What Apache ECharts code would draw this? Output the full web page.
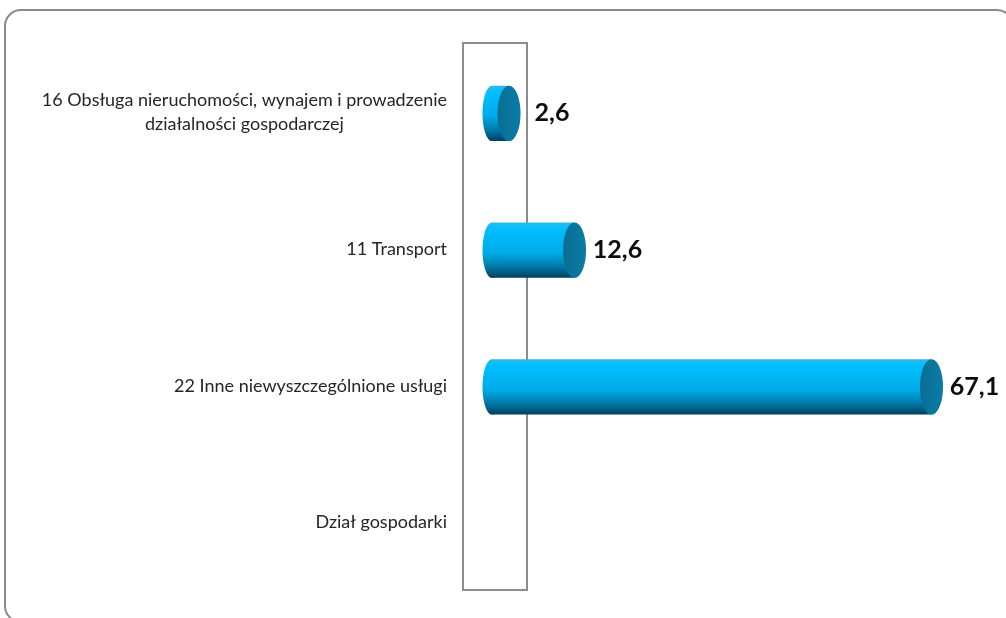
<!DOCTYPE html>
<html>
<head>
<meta charset="utf-8">
<script src="https://cdn.jsdelivr.net/npm/echarts@6/dist/echarts.min.js"></script>
<style>html,body{margin:0;padding:0;background:#fff}#c{width:1006px;height:618px}</style>
</head>
<body>
<div id="c"></div>
<script>
const categories = [
  '16 Obsługa nieruchomości, wynajem i prowadzenie\ndziałalności gospodarczej',
  '11 Transport',
  '22 Inne niewyszczególnione usługi',
  'Dział gospodarki'
];
const values = [2.6, 12.6, 67.1];

const chart = echarts.init(document.getElementById('c'));
const FONT = 'Lato';

function renderItem(params, api) {
  const v = api.value(0), c = api.value(1);
  const s = api.coord([0, c]);
  const e = api.coord([v, c]);
  const h = api.size([0, 1])[1] * 0.405;
  const ry = h / 2;
  const bodyFill = new echarts.graphic.LinearGradient(0, 0, 0, 1, [
    { offset: 0, color: '#2EB9EA' },
    { offset: 0.12, color: '#00BFFF' },
    { offset: 0.55, color: '#00ABE8' },
    { offset: 0.8, color: '#0079A8' },
    { offset: 1, color: '#003E5C' }
  ]);
  const capFill = new echarts.graphic.LinearGradient(0, 0, 1, 0, [
    { offset: 0, color: '#0A6E94' },
    { offset: 1, color: '#0A7CA6' }
  ]);
  const label = String(v).replace('.', ',');
  return {
    type: 'group',
    children: [
      { type: 'ellipse', shape: { cx: s[0], cy: s[1], rx: 9.5, ry: ry }, style: { fill: bodyFill } },
      { type: 'rect', shape: { x: s[0], y: s[1] - ry, width: e[0] - s[0], height: h }, style: { fill: bodyFill } },
      { type: 'ellipse', shape: { cx: e[0], cy: e[1], rx: 11.5, ry: ry }, style: { fill: capFill } },
      { type: 'text', style: { x: e[0] + 43, y: e[1], text: label, fill: '#0d0d0d', font: 'bold 25px "' + FONT + '"', align: 'center', verticalAlign: 'middle' } }
    ]
  };
}

chart.setOption({
  animation: false,
  backgroundColor: '#fff',
  graphic: [
    { type: 'rect', shape: { x: 5, y: 10, width: 1008, height: 612, r: 16 }, style: { fill: 'none', stroke: '#8a8a8a', lineWidth: 2 }, z: -1 }
  ],
  grid: [
    { left: 463, width: 64, top: 43, height: 547, show: true, borderColor: '#8c8c8c', borderWidth: 2, backgroundColor: 'transparent' },
    { left: 492, right: 1006 - 492 - 70 * 6.55, top: 45, height: 547 }
  ],
  xAxis: [
    { gridIndex: 0, type: 'value', show: false, min: 0, max: 1 },
    { gridIndex: 1, type: 'value', show: false, min: 0, max: 70 }
  ],
  yAxis: [
    {
      gridIndex: 0, type: 'category', inverse: true, data: categories,
      axisLine: { show: false }, axisTick: { show: false }, splitLine: { show: false },
      axisLabel: {
        margin: 16, color: '#262626',
        formatter: function (v) { return v.split('\n').map(function (l) { return '{c|' + l + '}'; }).join('\n'); },
        rich: { c: { align: 'center', fontFamily: FONT, fontSize: 18, color: '#262626', lineHeight: 24, padding: [2, 0, 0, 0] } }
      }
    },
    { gridIndex: 1, type: 'category', inverse: true, data: categories, show: false }
  ],
  series: [{
    type: 'custom',
    xAxisIndex: 1, yAxisIndex: 1,
    renderItem: renderItem,
    clip: false,
    data: values.map(function (v, i) { return [v, i]; })
  }]
});
</script>
</body>
</html>
